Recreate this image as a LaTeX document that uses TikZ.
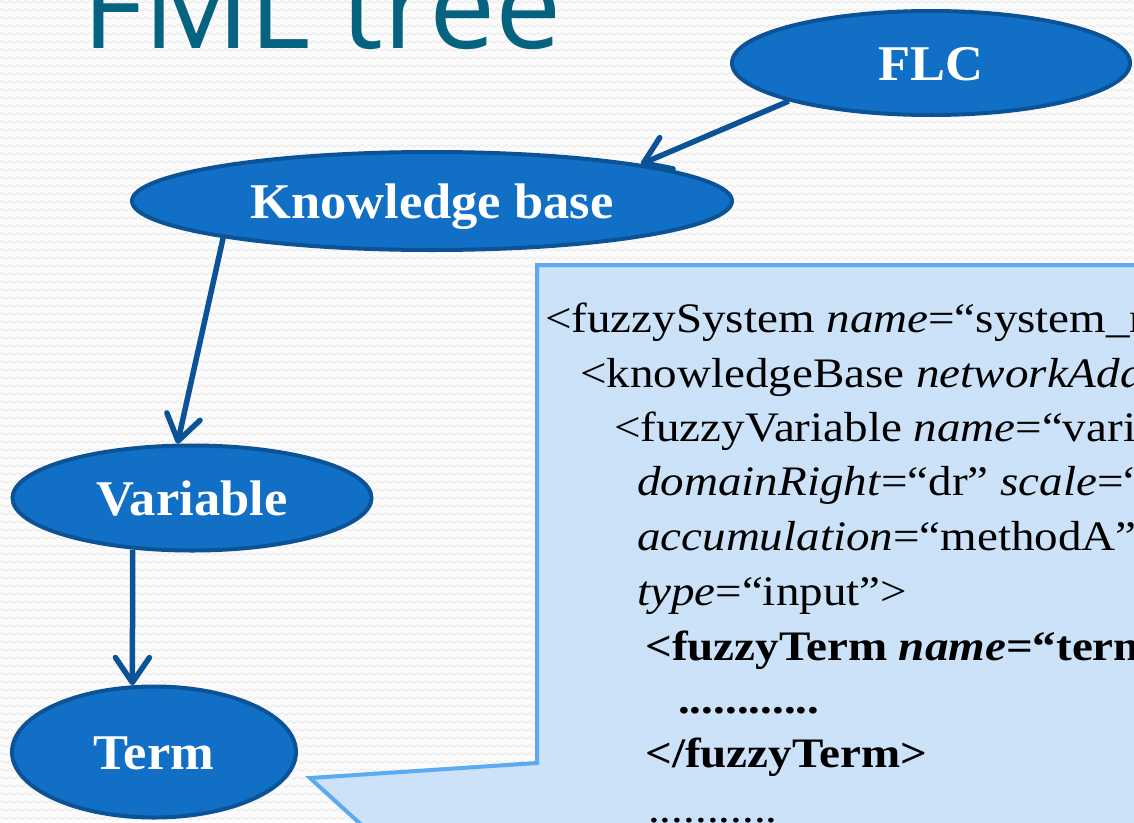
\documentclass[tikz,border=0pt]{standalone}
\usepackage{fontspec}
\setmainfont{Liberation Serif}
\newfontfamily\boxfont[FakeStretch=1.12]{Liberation Serif}
\newfontfamily\nodefont[FakeStretch=1.05]{Liberation Serif}
\newfontfamily\titlefont{Open Sans}
\usetikzlibrary{shapes.geometric,arrows.meta,patterns}
\definecolor{bg}{HTML}{FBFBFB}
\definecolor{wave}{HTML}{E8E8E8}
\definecolor{nodefill}{HTML}{1170C5}
\definecolor{nodeline}{HTML}{0B5296}
\definecolor{boxfill}{HTML}{C6E0F8}
\definecolor{boxline}{HTML}{5CAAF1}
\definecolor{titlecol}{HTML}{056380}
\pgfdeclarepatternformonly{bgwaves}{\pgfpoint{-1pt}{-1pt}}{\pgfpoint{9pt}{9pt}}{\pgfpoint{8pt}{8pt}}{%
  \pgfsetlinewidth{0.8pt}%
  \pgfpathmoveto{\pgfpoint{0pt}{4pt}}%
  \pgfpathcurveto{\pgfpoint{1.3pt}{5.8pt}}{\pgfpoint{2.7pt}{5.8pt}}{\pgfpoint{4pt}{4pt}}%
  \pgfpathcurveto{\pgfpoint{5.3pt}{2.2pt}}{\pgfpoint{6.7pt}{2.2pt}}{\pgfpoint{8pt}{4pt}}%
  \pgfusepath{stroke}}
\begin{document}
\begin{tikzpicture}[x=1pt,y=-1pt,
  tnode/.style={ellipse, draw=nodeline, line width=4pt, fill=nodefill, text=white,
    inner sep=0pt, text height=34pt, text depth=0pt,
    font=\nodefont\bfseries\fontsize{50}{60}\selectfont},
  conn/.style={draw=nodeline, line width=5.5pt,
    -{Straight Barb[length=25pt,width=34pt,round]}},
  code/.style={anchor=base west, inner sep=0pt, text=black,
    font=\boxfont\fontsize{42}{50}\selectfont}]
\useasboundingbox (0,0) rectangle (1134,822);
\clip (0,0) rectangle (1134,822);
% background
\fill[bg] (0,0) rectangle (1134,822);
\fill[pattern=bgwaves, pattern color=wave] (0,0) rectangle (1134,822);
% title
\node[anchor=base west, inner sep=0pt, text=titlecol,
  font=\titlefont\fontsize{118}{126}\selectfont] (title) at (82,48) {FML tree};
% callout box
\coordinate (tip) at (310,778);
\draw[draw=boxline, fill=boxfill, fill opacity=0.9, line width=4pt, line join=miter]
  (1150,265) -- (537,265) -- (537,763) -- (tip) -- (378,840) -- (1150,840) -- cycle;
% code lines
\node[code] (l1) at (545,332) {<fuzzySystem \textit{name}=“system\_n};
\node[code] (l2) at (580,387) {<knowledgeBase \textit{networkAdd}};
\node[code] (l3) at (614,441) {<fuzzyVariable \textit{name}=“vari};
\node[code] (l4) at (637,495) {\textit{domainRight}=“dr” \textit{scale}=“};
\node[code] (l5) at (637,550) {\textit{accumulation}=“methodA”};
\node[code] (l6) at (637,605) {\textit{type}=“input”>};
\node[code] (l7) at (645,660) {\textbf{<fuzzyTerm \textit{name}=“term}};
\node[code] (l8) at (678,713) {\textbf{............}};
\node[code] (l9) at (645,767) {\textbf{</fuzzyTerm>}};
\node[code] (l10) at (648,822) {...........};
% tree nodes
\node[tnode, minimum width=398pt, minimum height=104pt] (flc) at (931,63) {FLC};
\node[tnode, minimum width=600pt, minimum height=98pt] (kb) at (432,201) {Knowledge base};
\node[tnode, minimum width=359pt, minimum height=105pt] (var) at (192,498) {Variable};
\node[tnode, minimum width=284pt, minimum height=131pt] (term) at (154,752) {Term};
% connectors
\draw[conn] (flc.195.6) -- (kb.10.5);
\draw[conn] (kb.190.3) -- (var.105.3);
\draw[conn] (var.221.5) -- (term.108.4);
\end{tikzpicture}
\end{document}
